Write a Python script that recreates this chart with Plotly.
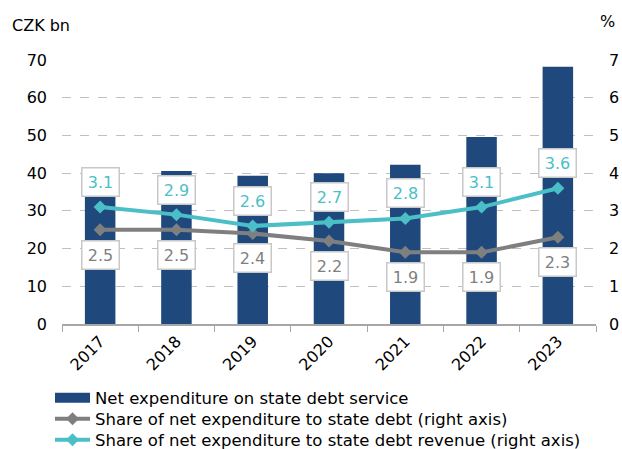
import plotly.graph_objects as go

years = ["2017", "2018", "2019", "2020", "2021", "2022", "2023"]
net_expenditure = [39.8, 40.6, 39.3, 40.0, 42.2, 49.6, 68.2]  # CZK bn
share_debt = [2.5, 2.5, 2.4, 2.2, 1.9, 1.9, 2.3]              # %
share_revenue = [3.1, 2.9, 2.6, 2.7, 2.8, 3.1, 3.6]           # %

NAVY = "#1f497d"
GREY = "#7f7f7f"
TEAL = "#4bbfc7"
FONT = "DejaVu Sans"

fig = go.Figure()

fig.add_trace(go.Bar(
    x=years, y=net_expenditure, name="Net expenditure on state debt service",
    marker=dict(color=NAVY, line=dict(width=0)), showlegend=False,
))
# legend entry drawn as a wide block in the bar colour
fig.add_trace(go.Scatter(
    x=years[:1], y=[None], mode="lines", name="Net expenditure on state debt service",
    line=dict(color=NAVY, width=10), hoverinfo="skip", legend="legend",
))
fig.add_trace(go.Scatter(
    x=years, y=share_debt, yaxis="y2", mode="lines+markers",
    name="Share of net expenditure to state debt (right axis)",
    line=dict(color=GREY, width=4), marker=dict(symbol="diamond", size=10, color=GREY),
    legend="legend2",
))
fig.add_trace(go.Scatter(
    x=years, y=share_revenue, yaxis="y2", mode="lines+markers",
    name="Share of net expenditure to state debt revenue (right axis)",
    line=dict(color=TEAL, width=4), marker=dict(symbol="diamond", size=10, color=TEAL),
    legend="legend3",
))

W, H = 622, 449
L, R, T, B = 62, 26, 60, 125

annotations = []
# value boxes: category index positions on the x axis
for i, v in enumerate(share_revenue):
    annotations.append(dict(
        x=i, y=v, xref="x", yref="y2", text=f"{v:.1f}", showarrow=False,
        yshift=25, font=dict(family=FONT, size=16, color=TEAL),
        bgcolor="white", bordercolor="#c8c8c8", borderwidth=1.5, borderpad=4,
        width=28, height=19,
    ))
for i, v in enumerate(share_debt):
    annotations.append(dict(
        x=i, y=v, xref="x", yref="y2", text=f"{v:.1f}", showarrow=False,
        yshift=-25, font=dict(family=FONT, size=16, color=GREY),
        bgcolor="white", bordercolor="#c8c8c8", borderwidth=1.5, borderpad=4,
        width=28, height=19,
    ))

def paper_xy(px, py):
    return (px - L) / (W - L - R), (H - B - py) / (H - T - B)

tx, ty = paper_xy(10, 25)
annotations.append(dict(
    x=tx, y=ty, xref="paper", yref="paper", xanchor="left", yanchor="middle",
    text="CZK bn", showarrow=False, font=dict(family=FONT, size=16, color="#000"),
))
px_, py_ = paper_xy(617, 22)
annotations.append(dict(
    x=px_, y=py_, xref="paper", yref="paper", xanchor="right", yanchor="middle",
    text="%", showarrow=False, font=dict(family=FONT, size=16, color="#000"),
))


def legend_row(py):
    lx, ly = paper_xy(50, py)
    return dict(
        x=lx, y=ly, xanchor="left", yanchor="middle", orientation="v",
        font=dict(family=FONT, size=16.5), itemwidth=35, tracegroupgap=0,
        bgcolor="rgba(0,0,0,0)", borderwidth=0,
    )


fig.update_layout(
    width=W, height=H,
    margin=dict(l=L, r=R, t=T, b=B, autoexpand=False),
    paper_bgcolor="white", plot_bgcolor="white",
    font=dict(family=FONT, size=16, color="#000"),
    bargap=0.6,
    showlegend=True,
    xaxis=dict(
        type="category", categoryorder="array", categoryarray=years,
        range=[-0.5, 6.5], tickangle=-45, showline=True, linecolor="#a6a6a6",
        linewidth=1.5, ticks="outside", tickson="boundaries", ticklen=6,
        tickcolor="#a6a6a6", showgrid=False, tickfont=dict(family=FONT, size=16),
    ),
    yaxis=dict(
        range=[0, 70], dtick=10, showgrid=True, gridcolor="#c0c0c0", griddash="dash",
        gridwidth=1.2, zeroline=False, showline=False, ticks="", ticklabelstandoff=14,
        tickfont=dict(family=FONT, size=16),
    ),
    yaxis2=dict(
        range=[0, 7], dtick=1, overlaying="y", side="right", showgrid=False,
        zeroline=False, showline=False, ticks="", ticklabelstandoff=12,
        tickfont=dict(family=FONT, size=16),
    ),
    legend=legend_row(398),
    legend2=legend_row(419),
    legend3=legend_row(440),
    annotations=annotations,
)

fig.write_html("out.html")
